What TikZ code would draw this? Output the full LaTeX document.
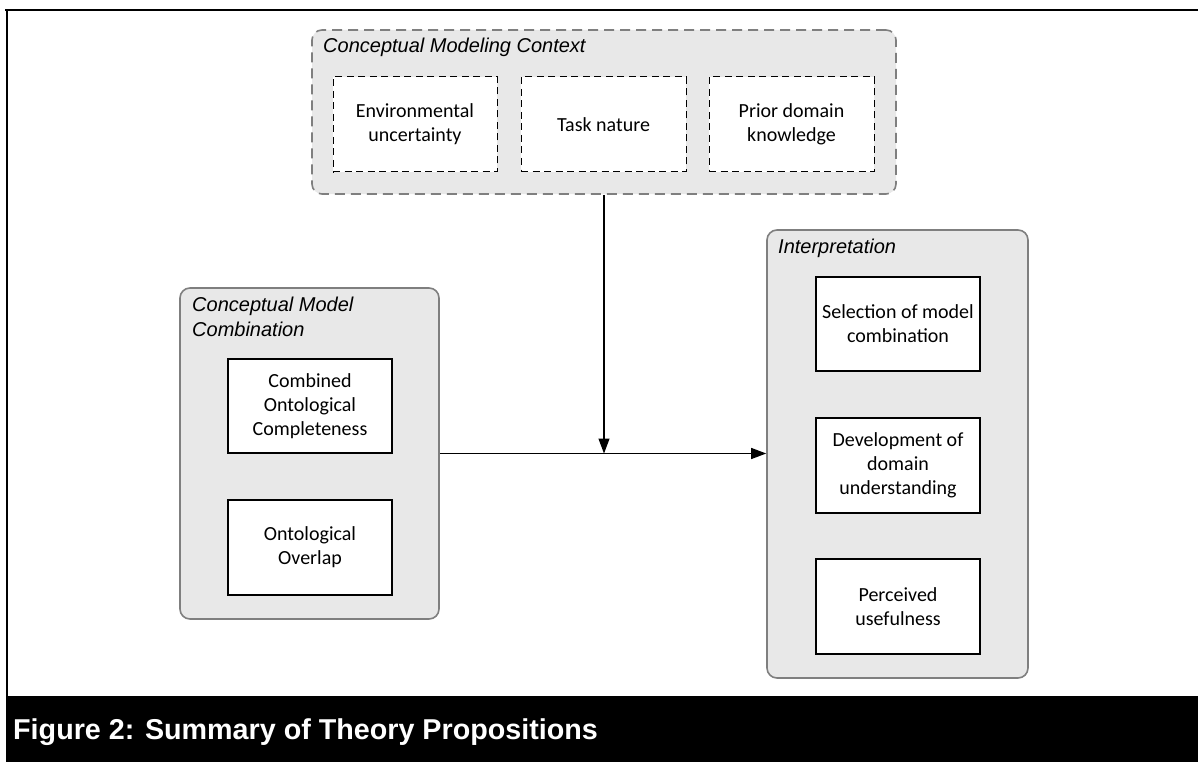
\documentclass[tikz,border=0pt]{standalone}
\usepackage{fontspec}
\setmainfont{Liberation Sans}
\newfontfamily\carlito{Carlito}
\usetikzlibrary{arrows.meta}
\definecolor{grpfill}{HTML}{E8E8E8}
\definecolor{grpline}{HTML}{7F7F7F}
\begin{document}
\begin{tikzpicture}[x=1pt,y=-1pt,
  group/.style={draw=grpline, fill=grpfill, line width=1.6pt, rounded corners=10pt, inner sep=0pt},
  box/.style={draw=black, fill=white, line width=1.2pt, align=center, inner sep=0pt, font=\carlito\fontsize{20}{24}\selectfont},
  dbox/.style={box, line width=1pt, dash pattern=on 7pt off 4.5pt},
  grptitle/.style={inner sep=0pt, align=left, font=\itshape\fontsize{20}{25}\selectfont},
  conn/.style={draw=black, line width=1.2pt, -{Triangle[length=15pt,width=11pt]}},
]
\useasboundingbox (0,0) rectangle (1198,762);
% frame
\draw[line width=2.7pt] (5,10) -- (1198,10);
\draw[line width=2pt] (7,10) -- (7,696);
\fill[black] (6,696) rectangle (1198,762);
\node[anchor=base west, inner sep=0pt, text=white, font=\bfseries\fontsize{28.7}{33}\selectfont] (cap) at (13,739.5) {Figure 2: Summary of Theory Propositions};

% top group
\node[group, dash pattern=on 10pt off 6pt, minimum width=584pt, minimum height=164pt] (tg) at (604,112) {};
\node[grptitle, anchor=west] (tgt) at (323,47) {Conceptual Modeling Context};
\node[dbox, minimum width=164pt, minimum height=95pt] (env) at (415,124.5) {Environmental\\uncertainty};
\node[dbox, minimum width=165pt, minimum height=95pt] (task) at (603.5,124.5) {Task nature};
\node[dbox, minimum width=165pt, minimum height=95pt] (prior) at (791.5,124.5) {Prior domain\\knowledge};

% left group
\node[group, minimum width=259pt, minimum height=331pt] (lg) at (309.5,453.5) {};
\node[grptitle, anchor=north west] (lgt) at (192,297) {Conceptual Model\\Combination};
\node[box, minimum width=164pt, minimum height=94pt] (coc) at (310,406) {Combined\\Ontological\\Completeness};
\node[box, minimum width=164pt, minimum height=95pt] (ovl) at (310,547.5) {Ontological\\Overlap};

% right group
\node[group, minimum width=261pt, minimum height=448pt] (rg) at (897.5,454) {};
\node[grptitle, anchor=west] (rgt) at (778,248) {Interpretation};
\node[box, minimum width=164pt, minimum height=94pt] (sel) at (898,324) {Selection of model\\combination};
\node[box, minimum width=164pt, minimum height=95pt] (dev) at (898,465.5) {Development of\\domain\\understanding};
\node[box, minimum width=164pt, minimum height=95pt] (pu) at (898,606.5) {Perceived\\usefulness};

% connectors
\coordinate (j) at (tg.south |- lg.east);
\draw[conn] (lg.east) -- (lg.east -| rg.west);
\draw[conn] (tg.south) -- (j);
\end{tikzpicture}
\end{document}
